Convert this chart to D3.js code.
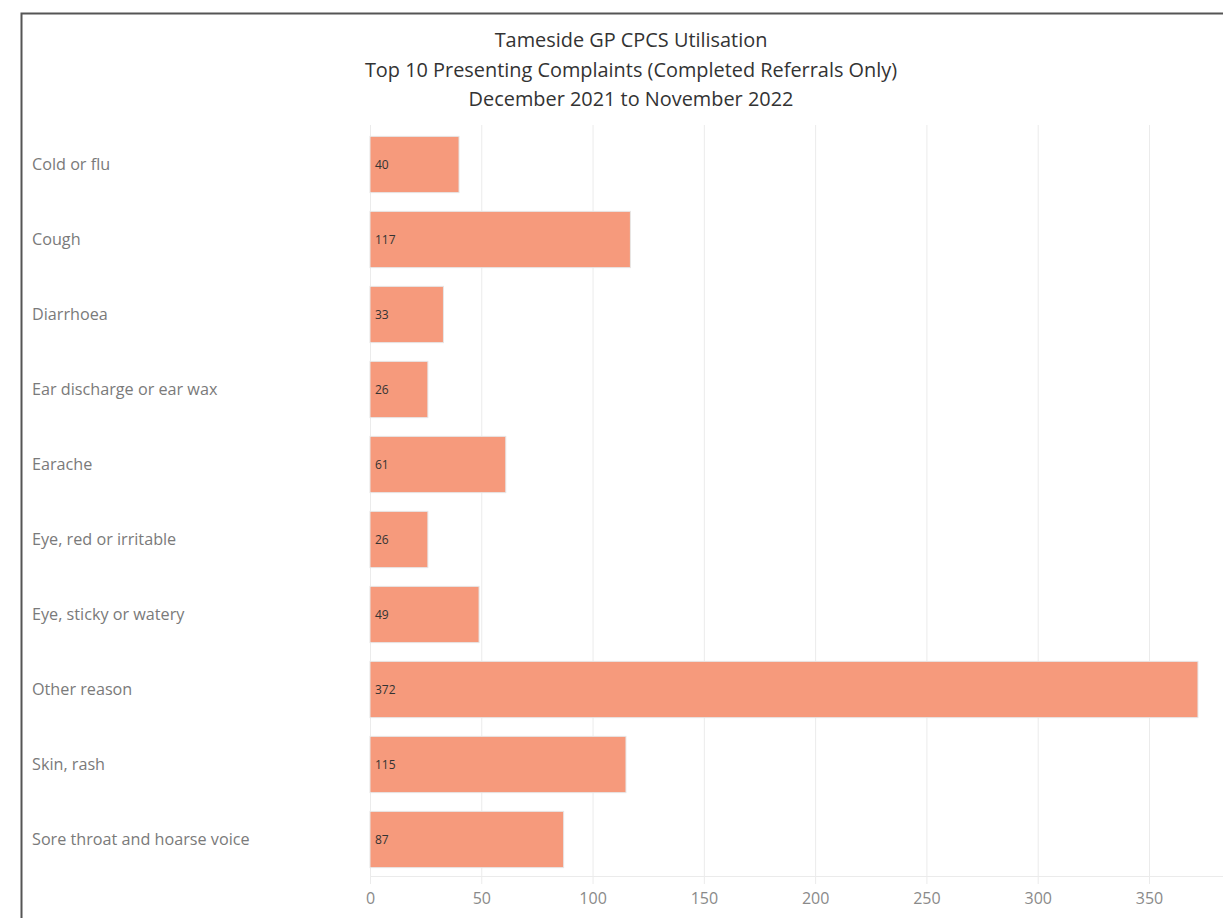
<!DOCTYPE html>
<html>
<head>
<meta charset="utf-8">
<title>Tameside GP CPCS Utilisation</title>
<script src="https://d3js.org/d3.v7.min.js"></script>
<style>
  body { margin: 0; background: #fff; }
  text { font-family: "Open Sans", "Noto Sans", sans-serif; }
</style>
</head>
<body>
<div id="canvas"></div>
<script>
  // data
  var complaints = ["Cold or flu", "Cough", "Diarrhoea", "Ear discharge or ear wax", "Earache",
    "Eye, red or irritable", "Eye, sticky or watery", "Other reason", "Skin, rash", "Sore throat and hoarse voice"];
  var referrals = [40, 117, 33, 26, 61, 26, 49, 372, 115, 87];
  var tickValues = [0, 50, 100, 150, 200, 250, 300, 350];
  var titleLines = ["Tameside GP CPCS Utilisation",
    "Top 10 Presenting Complaints (Completed Referrals Only)",
    "December 2021 to November 2022"];

  var data = complaints.map(function(c, i) { return {name: c, value: referrals[i]}; });

  var W = 1223, H = 918;
  var svg = d3.select("#canvas").append("svg")
    .attr("width", W).attr("height", H);

  // outer frame (open on the right/bottom, as cropped in the picture)
  svg.append("path")
    .attr("d", "M21.5," + H + " V13.5 H" + W)
    .attr("fill", "none")
    .attr("stroke", "#555")
    .attr("stroke-width", 2);

  var x = d3.scaleLinear()
    .domain([0, 380])
    .range([370, 370 + 380 * 2.2257]);

  var y = d3.scaleBand()
    .domain(complaints)
    .range([127, 877])
    .paddingInner(0.25)
    .paddingOuter(0.125);

  // gridlines
  svg.append("g").selectAll("line")
    .data(tickValues)
    .enter().append("line")
      .attr("x1", function(d) { return x(d) + 0.5; })
      .attr("x2", function(d) { return x(d) + 0.5; })
      .attr("y1", 125)
      .attr("y2", 884)
      .attr("stroke", "#ebebeb")
      .attr("stroke-width", 1);

  svg.append("line")
    .attr("x1", 370).attr("x2", W)
    .attr("y1", 876.5).attr("y2", 876.5)
    .attr("stroke", "#ebebeb");

  // bars
  svg.append("g").selectAll("rect")
    .data(data)
    .enter().append("rect")
      .attr("x", x(0))
      .attr("y", function(d) { return y(d.name); })
      .attr("width", function(d) { return x(d.value) - x(0); })
      .attr("height", y.bandwidth())
      .attr("fill", "#f69a7c")
      .attr("stroke", "#e6e6e6")
      .attr("stroke-width", 1);

  // value labels
  svg.append("g").selectAll("text")
    .data(data)
    .enter().append("text")
      .attr("x", x(0) + 5)
      .attr("y", function(d) { return y(d.name) + y.bandwidth() / 2; })
      .attr("dy", "0.35em")
      .attr("font-size", 12)
      .attr("fill", "#333")
      .text(function(d) { return d.value; });

  // category labels
  svg.append("g").selectAll("text")
    .data(data)
    .enter().append("text")
      .attr("x", 32)
      .attr("y", function(d) { return y(d.name) + y.bandwidth() / 2; })
      .attr("dy", "0.35em")
      .attr("font-size", 16.2)
      .attr("fill", "#7a7a7a")
      .text(function(d) { return d.name; });

  // x axis labels
  var axis = d3.axisBottom(x).tickValues(tickValues).tickSize(0).tickPadding(0);
  var ax = svg.append("g")
    .attr("transform", "translate(0,893)")
    .call(axis);
  ax.select(".domain").remove();
  ax.selectAll("text")
    .attr("font-size", 16)
    .attr("fill", "#8a8a8a")
    .attr("dy", "0.71em")
    .style("font-family", "'Open Sans', 'Noto Sans', sans-serif");

  // title
  svg.append("g").selectAll("text")
    .data(titleLines)
    .enter().append("text")
      .attr("x", 631)
      .attr("y", function(d, i) { return 47 + i * 29.5; })
      .attr("text-anchor", "middle")
      .attr("font-size", 19.9)
      .attr("fill", "#333")
      .text(function(d) { return d; });
</script>
</body>
</html>
